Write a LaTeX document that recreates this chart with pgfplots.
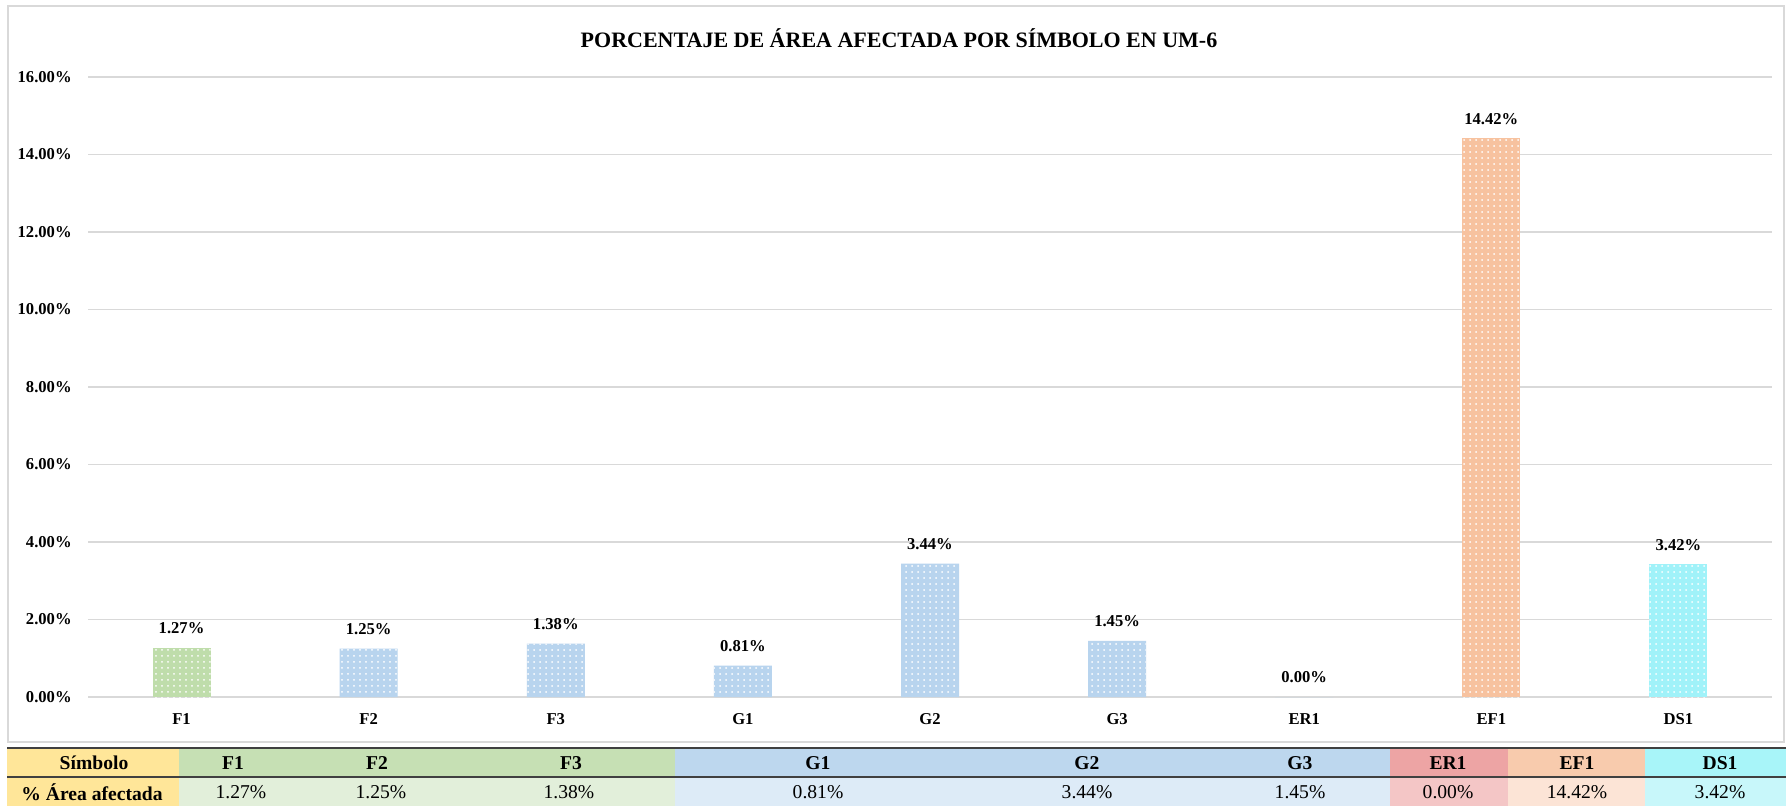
\documentclass[border=0pt]{standalone}
\usepackage{fontspec}
\setmainfont{Liberation Serif}
\usepackage{pgfplots}
\pgfplotsset{compat=1.18}
\usetikzlibrary{patterns}
\definecolor{barF}{HTML}{BFDDAB}
\definecolor{barG}{HTML}{B8D4EE}
\definecolor{barEF}{HTML}{F7C29F}
\definecolor{barDS}{HTML}{A0F2F9}
\definecolor{tLab}{HTML}{FFE699}
\definecolor{tFh}{HTML}{C6E0B4}
\definecolor{tFd}{HTML}{E2EFDA}
\definecolor{tGh}{HTML}{BDD7EE}
\definecolor{tGd}{HTML}{DDEBF7}
\definecolor{tERh}{HTML}{EDA4A4}
\definecolor{tERd}{HTML}{F4C6C6}
\definecolor{tEFh}{HTML}{F8CBAD}
\definecolor{tEFd}{HTML}{FCE4D6}
\definecolor{tDSh}{HTML}{A8F5F9}
\definecolor{tDSd}{HTML}{C8F7FA}
\begin{document}
\begin{tikzpicture}
\useasboundingbox (0,0) rectangle (893pt,-403pt);
\fill[white] (0,0) rectangle (893pt,-403pt);
\begin{scope}[x=0.5pt,y=-0.5pt]
 \draw[gray!30, line width=0.7pt] (8,6) rectangle (1784,742);
 \node[font=\bfseries\fontsize{11}{13}\selectfont] at (899,38) {PORCENTAJE DE ÁREA AFECTADA POR SÍMBOLO EN UM-6};
 % table backgrounds
 \fill[tLab] (7,748) rectangle (179,806);
 \fill[tFh] (179,748) rectangle (675,777);
 \fill[tFd] (179,777) rectangle (675,806);
 \fill[tGh] (675,748) rectangle (1390,777);
 \fill[tGd] (675,777) rectangle (1390,806);
 \fill[tERh] (1390,748) rectangle (1508,777);
 \fill[tERd] (1390,777) rectangle (1508,806);
 \fill[tEFh] (1508,748) rectangle (1645,777);
 \fill[tEFd] (1508,777) rectangle (1645,806);
 \fill[tDSh] (1645,748) rectangle (1786,777);
 \fill[tDSd] (1645,777) rectangle (1786,806);
 \draw[black!75, line width=1pt] (7,748) -- (1786,748);
 \draw[black!75, line width=0.8pt] (7,777) -- (1786,777);
 \begin{scope}[every node/.style={font=\bfseries\fontsize{9.8}{11}\selectfont, inner sep=0pt}]
  \node at (94,763) {Símbolo};
  \node at (233,763) {F1};
  \node at (377,763) {F2};
  \node at (571,763) {F3};
  \node at (818,763) {G1};
  \node at (1087,763) {G2};
  \node at (1300,763) {G3};
  \node at (1448,763) {ER1};
  \node at (1577,763) {EF1};
  \node at (1720,763) {DS1};
  \node at (92,792) {\% Área afectada};
 \end{scope}
 \begin{scope}[every node/.style={font=\fontsize{9.8}{11}\selectfont, inner sep=0pt}]
  \node at (241,792) {1.27\%};
  \node at (381,792) {1.25\%};
  \node at (569,792) {1.38\%};
  \node at (818,792) {0.81\%};
  \node at (1087,792) {3.44\%};
  \node at (1300,792) {1.45\%};
  \node at (1448,792) {0.00\%};
  \node at (1577,792) {14.42\%};
  \node at (1720,792) {3.42\%};
 \end{scope}
\end{scope}
\begin{axis}[
  at={(44pt,-348.5pt)}, anchor=south west,
  scale only axis, width=842pt, height=310pt,
  xmin=-0.5, xmax=8.5, ymin=0, ymax=16,
  enlargelimits=false, clip=false,
  ybar, bar width=29pt,
  xtick={0,1,2,3,4,5,6,7,8},
  xticklabels={F1,F2,F3,G1,G2,G3,ER1,EF1,DS1},
  ytick={0,2,4,6,8,10,12,14,16},
  /pgf/number format/assume math mode=true,
  yticklabel={\pgfmathprintnumber[fixed,fixed zerofill,precision=2]{\tick}\%},
  ymajorgrids, grid style={draw=black!15, line width=0.7pt},
  axis line style={draw=none},
  major tick length=0pt,
  tick label style={font=\bfseries\fontsize{8.3}{10}\selectfont},
  yticklabel style={inner sep=0pt, anchor=east, xshift=-8pt},
  xticklabel style={inner sep=0pt, anchor=north, yshift=-8pt},
  nodes near coords={\pgfmathprintnumber[fixed,fixed zerofill,precision=2]{\pgfplotspointmeta}\%},
  nodes near coords style={font=\bfseries\fontsize{8.3}{10}\selectfont, inner sep=0pt, anchor=south, yshift=6.7pt},
]
\addplot[bar shift=0pt, fill=barF, draw=none, postaction={pattern=dots, pattern color=white}] coordinates {(0,1.27)};
\addplot[bar shift=0pt, fill=barG, draw=none, postaction={pattern=dots, pattern color=white}] coordinates {(1,1.25) (2,1.38) (3,0.81) (4,3.44) (5,1.45)};
\addplot[bar shift=0pt, fill=barG, draw=none] coordinates {(6,0.00)};
\addplot[bar shift=0pt, fill=barEF, draw=none, postaction={pattern=dots, pattern color=white}] coordinates {(7,14.42)};
\addplot[bar shift=0pt, fill=barDS, draw=none, postaction={pattern=dots, pattern color=white}] coordinates {(8,3.42)};
\end{axis}
\end{tikzpicture}
\end{document}
